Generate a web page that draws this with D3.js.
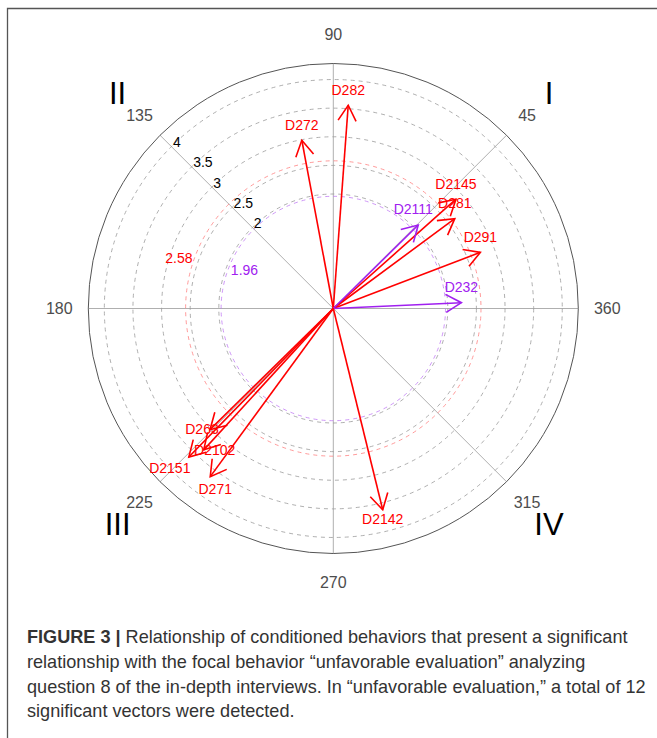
<!DOCTYPE html>
<html><head><meta charset="utf-8">
<script src="https://cdn.jsdelivr.net/npm/d3@7/dist/d3.min.js"></script>
<style>html,body{margin:0;padding:0;background:#fff;overflow:hidden}</style>
</head><body>
<script>
// ---- data ----
const vectorLabels = ["D282","D272","D2145","D281","D291","D2111","D232","D263","D2102","D2151","D271","D2142"];
const zValues      = [3.56, 2.99, 2.87, 2.64, 2.75, 2.08, 2.24, 3.02, 3.35, 3.62, 3.64, 3.62];
const angleDeg     = [85.8, 100.6, 41.7, 36.5, 20.9, 44.5, 2.6, 224.5, 227.5, 225.8, 233.8, 283.8];
const gridValues   = [2, 2.5, 3, 3.5, 4];
const gridTickLabels = ["2","2.5","3","3.5","4"];
const thresholds   = [1.96, 2.58];
const thresholdLabels = ["1.96","2.58"];
const angleTicks   = [90, 45, 135, 180, 360, 225, 270, 315];
const quadrants    = ["I","II","III","IV"];
const quadrantAngles = [45, 135, 225, 315];
const captionBold  = "FIGURE 3 |";
const captionLines = [
  " Relationship of conditioned behaviors that present a significant",
  "relationship with the focal behavior \u201cunfavorable evaluation\u201d analyzing",
  "question 8 of the in-depth interviews. In \u201cunfavorable evaluation,\u201d a total of 12",
  "significant vectors were detected."
];

// ---- layout ----
const W = 657, H = 738;
const cx = 333.3, cy = 308.5;
const rMax = 4.28, R = 245;
const rScale = d3.scaleLinear().domain([0, rMax]).range([0, R]);
const rad = d => d * Math.PI / 180;
const px = (v, a) => cx + rScale(v) * Math.cos(rad(a));
const py = (v, a) => cy - rScale(v) * Math.sin(rad(a));
const colorOf = v => v >= thresholds[1] ? "#ff0000" : "#a020f0";
// label nudges (pixels, relative to default placement) to separate crowded labels
const labelNudge = {D263: [-8, -10], D2102: [11, -9], D2151: [-19, 2], D271: [5, 3.5], D2111: [-5, 0]};

const svg = d3.select("body").append("svg").attr("width", W).attr("height", H)
  .style("font-family", "'Liberation Sans', Arial, Helvetica, sans-serif");

// frame
svg.append("path").attr("d", `M7.5,${H+5} L7.5,8.5 L${W+5},8.5`)
  .attr("fill", "none").attr("stroke", "#555").attr("stroke-width", 1.3);

const g = svg.append("g");

// axis lines
[0, 45, 90, 135].forEach(a => {
  g.append("line")
    .attr("x1", px(rMax, a)).attr("y1", py(rMax, a))
    .attr("x2", px(rMax, a + 180)).attr("y2", py(rMax, a + 180))
    .attr("stroke", "#a6a6a6").attr("stroke-width", 0.9);
});

// dashed grid circles
g.selectAll("circle.grid").data(gridValues).join("circle")
  .attr("cx", cx).attr("cy", cy).attr("r", d => rScale(d))
  .attr("fill", "none").attr("stroke", "#9a9a9a").attr("stroke-width", 0.8)
  .attr("stroke-dasharray", "4,4");

// threshold circles
g.selectAll("circle.thr").data(thresholds).join("circle")
  .attr("cx", cx).attr("cy", cy).attr("r", d => rScale(d))
  .attr("fill", "none").attr("stroke", (d, i) => i === 0 ? "#c27cf5" : "#ff8080")
  .attr("stroke-width", 0.8).attr("stroke-dasharray", "4,4");

// outer circle
g.append("circle").attr("cx", cx).attr("cy", cy).attr("r", R)
  .attr("fill", "none").attr("stroke", "#555").attr("stroke-width", 1);

// grid tick labels along 135 deg
g.selectAll("text.gl").data(gridValues).join("text")
  .attr("x", d => px(d, 135) + 1.5).attr("y", d => py(d, 135) + 0.5)
  .attr("font-size", 14).attr("fill", "#000").attr("text-anchor", "start")
  .text((d, i) => gridTickLabels[i]);

// threshold labels
const thrLabelPos = [{a: 156.7, dr: -15.5}, {a: 162, dr: 14.6}];
g.selectAll("text.tl").data(thresholds).join("text")
  .attr("x", (d, i) => cx + (rScale(d) + thrLabelPos[i].dr) * Math.cos(rad(thrLabelPos[i].a)))
  .attr("y", (d, i) => cy - (rScale(d) + thrLabelPos[i].dr) * Math.sin(rad(thrLabelPos[i].a)))
  .attr("dy", "0.35em").attr("text-anchor", "middle").attr("font-size", 14)
  .attr("fill", (d, i) => i === 0 ? "#a020f0" : "#ff0000")
  .text((d, i) => thresholdLabels[i]);

// angle tick labels
const labR = 274;
g.selectAll("text.al").data(angleTicks).join("text")
  .attr("x", d => cx + labR * Math.cos(rad(d)))
  .attr("y", d => cy - labR * Math.sin(rad(d)))
  .attr("dy", "0.36em").attr("text-anchor", "middle").attr("font-size", 16)
  .attr("fill", "#4d4d4d").text(d => d);

// quadrant numerals
const qR = 305;
g.selectAll("text.q").data(quadrants).join("text")
  .attr("x", (d, i) => cx + qR * Math.cos(rad(quadrantAngles[i])))
  .attr("y", (d, i) => cy - qR * Math.sin(rad(quadrantAngles[i])))
  .attr("dy", "0.36em").attr("text-anchor", "middle").attr("font-size", 31)
  .attr("fill", "#000").text(d => d);

// vectors
const vectors = vectorLabels.map((name, i) => ({name, v: zValues[i], a: angleDeg[i]}));
const headLen = 18, headAng = 30;
const vg = g.append("g");
vectors.forEach(d => {
  const x2 = px(d.v, d.a), y2 = py(d.v, d.a);
  const col = colorOf(d.v);
  vg.append("line").attr("x1", cx).attr("y1", cy).attr("x2", x2).attr("y2", y2)
    .attr("stroke", col).attr("stroke-width", 1.6);
  const back = d.a + 180;
  const b1 = rad(back - headAng), b2 = rad(back + headAng);
  vg.append("path")
    .attr("d", `M${x2 + headLen*Math.cos(b1)},${y2 - headLen*Math.sin(b1)} L${x2},${y2} L${x2 + headLen*Math.cos(b2)},${y2 - headLen*Math.sin(b2)}`)
    .attr("fill", "none").attr("stroke", col).attr("stroke-width", 1.6);
  const upper = Math.sin(rad(d.a)) >= 0;
  const nd = labelNudge[d.name] || [0, 0];
  vg.append("text").attr("x", x2 + nd[0]).attr("y", (upper ? y2 - 15.5 : y2 + 9) + nd[1])
    .attr("dy", "0.35em").attr("text-anchor", "middle").attr("font-size", 14)
    .attr("fill", col).text(d.name);
});

// caption
const cap = svg.append("g").attr("fill", "#333");
const lineY = [643, 668, 692.5, 717];
const t0 = cap.append("text").attr("x", 27).attr("y", lineY[0]).attr("font-size", 16);
t0.append("tspan").attr("font-weight", "bold").text(captionBold);
t0.append("tspan").text(captionLines[0]);
const w0 = t0.node().getComputedTextLength();
const fs = 16 * 601 / w0;
t0.attr("font-size", fs);
captionLines.slice(1).forEach((s, i) => {
  cap.append("text").attr("x", 27).attr("y", lineY[i + 1]).attr("font-size", fs).text(s);
});
</script>
</body></html>
